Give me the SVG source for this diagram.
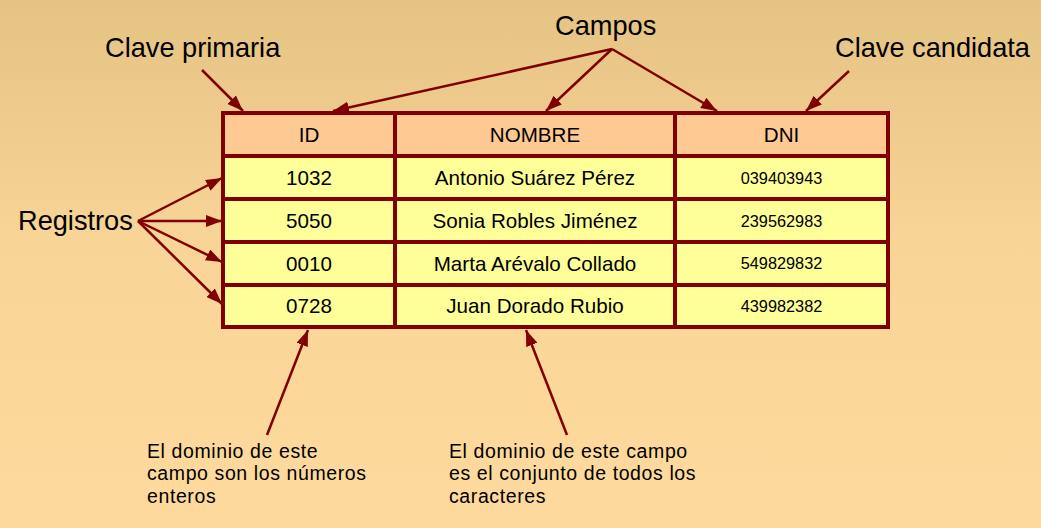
<svg xmlns="http://www.w3.org/2000/svg" width="1041" height="528" viewBox="0 0 1041 528">
<defs>
<linearGradient id="bg" x1="0" y1="0" x2="0" y2="1">
<stop offset="0" stop-color="#E5C383"/>
<stop offset="0.45" stop-color="#F8D496"/>
<stop offset="1" stop-color="#FFDA9E"/>
</linearGradient>
<marker id="ah" viewBox="0 0 16 12" refX="16" refY="6" markerWidth="16" markerHeight="12" markerUnits="userSpaceOnUse" orient="auto">
<path d="M0,0 L16,6 L0,12 Z" fill="#800000"/>
</marker>
<style>
.hd{fill:#FFC994;stroke:#800000;stroke-width:4}
.cl{fill:#FFFF99;stroke:#800000;stroke-width:4}
.t{font-family:"Liberation Sans",Arial,sans-serif;font-size:20.6px;fill:#000;text-anchor:middle}
.s{font-family:"Liberation Sans",Arial,sans-serif;font-size:16.3px;fill:#000;text-anchor:middle}
.big{font-family:"Liberation Sans",Arial,sans-serif;font-size:27.2px;fill:#000}
.note{font-family:"Liberation Sans",Arial,sans-serif;font-size:19.5px;fill:#000;letter-spacing:0.6px}
.c{stroke:#800000;stroke-width:2.5;fill:none;marker-end:url(#ah)}
</style>
</defs>
<rect x="0" y="0" width="1041" height="528" fill="url(#bg)"/>
<g id="label-campos"><text class="big" x="555" y="35">Campos</text></g>
<g id="label-clave-primaria"><text class="big" x="105" y="57">Clave primaria</text></g>
<g id="label-clave-candidata"><text class="big" x="835" y="57">Clave candidata</text></g>
<g id="label-registros"><text class="big" x="18" y="230">Registros</text></g>
<g id="note-id"><text class="note" x="147" y="457.5">El dominio de este</text><text class="note" x="147" y="480">campo son los números</text><text class="note" x="147" y="502.5">enteros</text></g>
<g id="note-nombre"><text class="note" x="449" y="457.5">El dominio de este campo</text><text class="note" x="449" y="480">es el conjunto de todos los</text><text class="note" x="449" y="502.5">caracteres</text></g>
<g id="table">
<g id="header">
<rect class="hd" x="223" y="113" width="172" height="43"/>
<rect class="hd" x="395" y="113" width="280" height="43"/>
<rect class="hd" x="675" y="113" width="213" height="43"/>
<text class="t" x="309" y="142">ID</text>
<text class="t" x="535" y="142">NOMBRE</text>
<text class="t" x="781.5" y="142">DNI</text>
</g>
<g id="row1">
<rect class="cl" x="223" y="156" width="172" height="43"/>
<rect class="cl" x="395" y="156" width="280" height="43"/>
<rect class="cl" x="675" y="156" width="213" height="43"/>
<text class="t" x="309" y="185">1032</text>
<text class="t" x="535" y="185">Antonio Suárez Pérez</text>
<text class="s" x="781.5" y="183.5">039403943</text>
</g>
<g id="row2">
<rect class="cl" x="223" y="199" width="172" height="43"/>
<rect class="cl" x="395" y="199" width="280" height="43"/>
<rect class="cl" x="675" y="199" width="213" height="43"/>
<text class="t" x="309" y="228">5050</text>
<text class="t" x="535" y="228">Sonia Robles Jiménez</text>
<text class="s" x="781.5" y="226.5">239562983</text>
</g>
<g id="row3">
<rect class="cl" x="223" y="242" width="172" height="43"/>
<rect class="cl" x="395" y="242" width="280" height="43"/>
<rect class="cl" x="675" y="242" width="213" height="43"/>
<text class="t" x="309" y="270.5">0010</text>
<text class="t" x="535" y="270.5">Marta Arévalo Collado</text>
<text class="s" x="781.5" y="269">549829832</text>
</g>
<g id="row4">
<rect class="cl" x="223" y="285" width="172" height="42"/>
<rect class="cl" x="395" y="285" width="280" height="42"/>
<rect class="cl" x="675" y="285" width="213" height="42"/>
<text class="t" x="309" y="313">0728</text>
<text class="t" x="535" y="313">Juan Dorado Rubio</text>
<text class="s" x="781.5" y="311.5">439982382</text>
</g>
</g>
<g id="connectors">
<line class="c" x1="202" y1="70" x2="243" y2="111"/>
<line class="c" x1="612" y1="49" x2="333" y2="111"/>
<line class="c" x1="612" y1="49" x2="546" y2="111"/>
<line class="c" x1="612" y1="49" x2="717" y2="111"/>
<line class="c" x1="849" y1="71" x2="806" y2="111"/>
<line class="c" x1="138" y1="221" x2="222" y2="178"/>
<line class="c" x1="138" y1="221" x2="222" y2="221"/>
<line class="c" x1="138" y1="221" x2="222" y2="262"/>
<line class="c" x1="138" y1="221" x2="222" y2="304"/>
<line class="c" x1="267" y1="435" x2="308" y2="330"/>
<line class="c" x1="567" y1="435" x2="526" y2="330"/>
</g>
</svg>
